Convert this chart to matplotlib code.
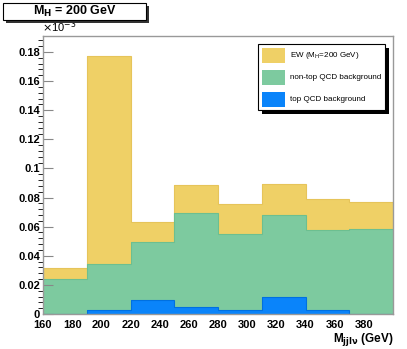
import matplotlib
matplotlib.use("Agg")
import matplotlib.pyplot as plt
from matplotlib.patches import Rectangle
import numpy as np

# bin edges in M_jjlv (GeV)
edges = [160, 190, 220, 250, 280, 310, 340, 370, 400]

# per-bin contributions (units of 1e-3)
top_qcd = [0.0, 0.0028, 0.0096, 0.0048, 0.0025, 0.0119, 0.0025, 0.0]
nontop_qcd = [0.0239, 0.0316, 0.0400, 0.0645, 0.0528, 0.0558, 0.0553, 0.0583]
ew_signal = [0.0080, 0.1432, 0.0139, 0.0195, 0.0204, 0.0216, 0.0212, 0.0188]

x_ticks = [160, 180, 200, 220, 240, 260, 280, 300, 320, 340, 360, 380]
y_ticks = [0, 0.02, 0.04, 0.06, 0.08, 0.1, 0.12, 0.14, 0.16, 0.18]
y_labels = ["0", "0.02", "0.04", "0.06", "0.08", "0.1", "0.12", "0.14", "0.16", "0.18"]

legend_labels = [r"EW (M$_{\rm H}$=200 GeV)", "non-top QCD background", "top QCD background"]

c_ew = "#efd066"
c_nontop = "#7dca9f"
c_top = "#0a84fa"

plt.rcParams['font.family'] = ['Liberation Sans', 'DejaVu Sans']

W, H = 407, 349
fig = plt.figure(figsize=(W / 100, H / 100), dpi=100)
ax = fig.add_axes([43 / W, 1 - 314 / H, 350 / W, 278 / H])

s1 = np.array(top_qcd)
s2 = s1 + np.array(nontop_qcd)
s3 = s2 + np.array(ew_signal)

ax.stairs(s3, edges, baseline=0, fill=True, color=c_ew, lw=0)
ax.stairs(s3, edges, baseline=None, color="#e6c45a", lw=0.8)
ax.stairs(s2, edges, baseline=0, fill=True, color=c_nontop, lw=0)
ax.stairs(s2, edges, baseline=None, color="#6cbf90", lw=0.8)
ax.stairs(s1, edges, baseline=0, fill=True, color=c_top, lw=0)
ax.stairs(s1, edges, baseline=None, color="#0070e0", lw=0.8)

ax.set_xlim(160, 400)
ax.set_ylim(0, 0.191)
ax.set_xticks(x_ticks)
ax.set_xticklabels([str(v) for v in x_ticks], fontsize=8, fontweight='bold')
ax.set_yticks(y_ticks)
ax.set_yticklabels(y_labels, fontsize=8, fontweight='bold')
ax.set_yticks(np.arange(0, 0.191, 0.004), minor=True)
ax.tick_params(axis='both', direction='in', color='#888888', width=0.8, pad=2)
ax.tick_params(axis='y', which='major', length=7)
ax.tick_params(axis='y', which='minor', length=3.5)
ax.tick_params(axis='x', which='major', length=0, pad=4)
for sp in ax.spines.values():
    sp.set_color('#999999')
    sp.set_linewidth(1.0)

fig.text(42 / W, 1 - 35 / H, r"$\times$10$^{-3}$", fontsize=8, ha='left', va='bottom')
fig.text(393 / W, 1 - 342 / H, r"M$_{\mathbf{jjl\nu}}$ (GeV)", fontsize=8.5,
         fontweight='bold', ha='right', va='baseline')


def px_rect(x0, y0, x1, y1, **kw):
    # rectangle given in picture pixels from the top-left corner
    r = Rectangle((x0 / W, 1 - y1 / H), (x1 - x0) / W, (y1 - y0) / H,
                  transform=fig.transFigure, **kw)
    fig.patches.append(r)
    return r


# legend box with black shadow
lx0, ly0, lx1, ly1 = 258, 44, 385, 110
px_rect(lx0 + 4, ly0 + 4, lx1 + 4, ly1 + 4, facecolor='black', edgecolor='none', zorder=5)
px_rect(lx0, ly0, lx1, ly1, facecolor='white', edgecolor='black', lw=0.8, zorder=6)
for i, (lab, col) in enumerate(zip(legend_labels, [c_ew, c_nontop, c_top])):
    yc = 55.5 + 22 * i
    px_rect(262, yc - 7.5, 285, yc + 7.5, facecolor=col, edgecolor='none', zorder=7)
    fig.text(290 / W, 1 - yc / H, lab, fontsize=5.8, ha='left', va='center', zorder=8)

# title box
tx0, ty0, tx1, ty1 = 3, 3, 146, 20
px_rect(tx0 + 3, ty0 + 3, tx1 + 3, ty1 + 3, facecolor='#333333', edgecolor='none', zorder=5)
px_rect(tx0, ty0, tx1, ty1, facecolor='white', edgecolor='black', lw=0.8, zorder=6)
fig.text((tx0 + tx1) / 2 / W, 1 - (ty0 + ty1) / 2 / H, r"M$_{\mathbf{H}}$ = 200 GeV",
         fontsize=9, fontweight='bold', ha='center', va='center', zorder=7)

fig.savefig("out.png", dpi=100)
